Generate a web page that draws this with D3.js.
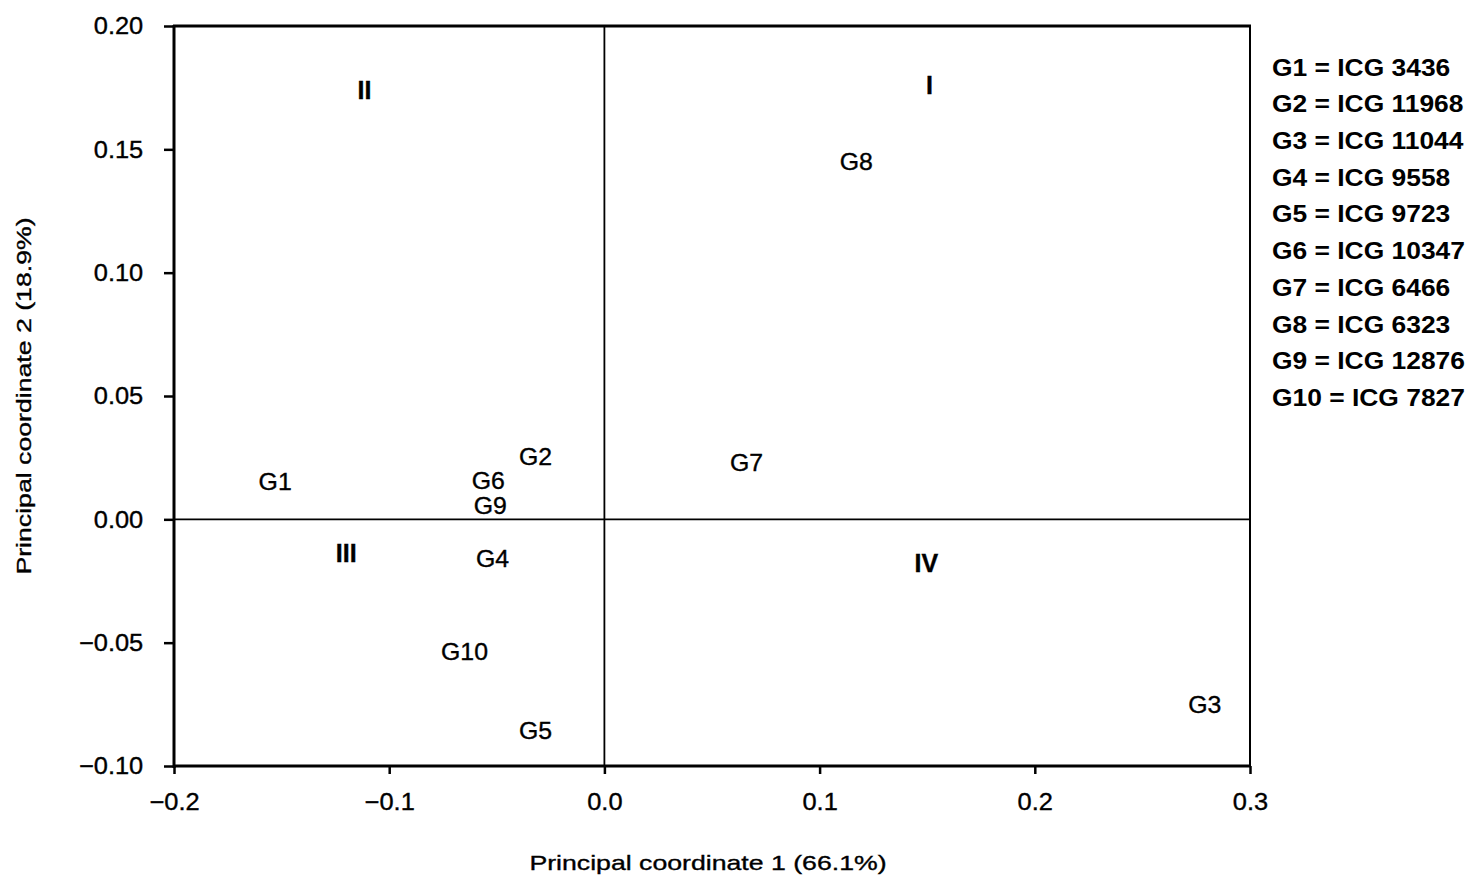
<html>
  <head>
    <meta charset="utf-8">
    <style>
      body { margin: 0; background: #fff; }
      text { font-family: "Liberation Sans", Arial, Helvetica, sans-serif; fill: #000; stroke: #000; stroke-width: 0.35px; }
      .tick text { font-size: 24px; }
      .tick line { stroke: #000; stroke-width: 2.5px; }
      .domain { display: none; }
    </style>
    <script src="https://cdnjs.cloudflare.com/ajax/libs/d3/7.8.5/d3.min.js"></script>
  </head>
  <body>
    <script>
      // genotype labels and their positions (label centres)
      var genotypes = ["G1", "G2", "G3", "G4", "G5", "G6", "G7", "G8", "G9", "G10"];
      var pc1 = [-0.153, -0.032, 0.279, -0.052, -0.032, -0.054, 0.066, 0.117, -0.053, -0.065];
      var pc2 = [0.0154, 0.0255, -0.075, -0.0158, -0.0855, 0.0158, 0.0231, 0.145, 0.0057, -0.0535];
      var accessions = ["ICG 3436", "ICG 11968", "ICG 11044", "ICG 9558", "ICG 9723",
                        "ICG 10347", "ICG 6466", "ICG 6323", "ICG 12876", "ICG 7827"];

      // quadrant labels
      var quadrants = ["I", "II", "III", "IV"];
      var quadX = [0.151, -0.1115, -0.12, 0.1496];
      var quadY = [0.176, 0.174, -0.0138, -0.0178];

      var xTicks = [-0.2, -0.1, 0.0, 0.1, 0.2, 0.3];
      var yTicks = [-0.10, -0.05, 0.00, 0.05, 0.10, 0.15, 0.20];

      var svg = d3.select("body").append("svg")
        .attr("width", 1474)
        .attr("height", 875);

      var mLeft = 174, mRight = 1250, mTop = 26, mBottom = 766;

      var x = d3.scaleLinear().domain([-0.2, 0.3]).range([mLeft, mRight]);
      var y = d3.scaleLinear().domain([-0.10, 0.20]).range([mBottom, mTop]);

      // axes
      var xAxis = svg.append("g")
        .attr("transform", "translate(0," + mBottom + ")")
        .call(d3.axisBottom(x).tickValues(xTicks).tickFormat(d3.format(".1f")).tickSize(8).tickPadding(19));
      xAxis.selectAll(".tick text").attr("transform", "scale(1.06,1)");

      var yAxis = svg.append("g")
        .attr("transform", "translate(" + mLeft + ",0)")
        .call(d3.axisLeft(y).tickValues(yTicks).tickFormat(d3.format(".2f")).tickSize(10).tickPadding(19));
      yAxis.selectAll(".tick text").attr("transform", "scale(1.06,1)");

      // frame
      svg.append("line").attr("x1", mLeft).attr("x2", mLeft).attr("y1", mTop - 1).attr("y2", mBottom + 2)
        .attr("stroke", "#000").attr("stroke-width", 3);
      svg.append("line").attr("x1", mLeft - 1).attr("x2", mRight + 1).attr("y1", mBottom).attr("y2", mBottom)
        .attr("stroke", "#000").attr("stroke-width", 3);
      svg.append("line").attr("x1", mLeft - 1).attr("x2", mRight + 1).attr("y1", mTop).attr("y2", mTop)
        .attr("stroke", "#000").attr("stroke-width", 3);
      svg.append("line").attr("x1", mRight).attr("x2", mRight).attr("y1", mTop).attr("y2", mBottom)
        .attr("stroke", "#000").attr("stroke-width", 2);

      // zero lines
      svg.append("line").attr("x1", x(0)).attr("x2", x(0)).attr("y1", mTop).attr("y2", mBottom)
        .attr("stroke", "#000").attr("stroke-width", 1.8);
      svg.append("line").attr("x1", mLeft).attr("x2", mRight).attr("y1", y(0)).attr("y2", y(0))
        .attr("stroke", "#000").attr("stroke-width", 1.8);

      // genotype labels
      svg.selectAll(".gen")
        .data(genotypes)
        .enter()
        .append("text")
        .attr("class", "gen")
        .attr("transform", function(d, i) {
          return "translate(" + x(pc1[i]) + "," + y(pc2[i]) + ") scale(1.08,1)";
        })
        .attr("text-anchor", "middle")
        .attr("dy", "0.36em")
        .style("font-size", "23px")
        .text(function(d) { return d; });

      // quadrant numerals
      svg.selectAll(".quad")
        .data(quadrants)
        .enter()
        .append("text")
        .attr("class", "quad")
        .attr("x", function(d, i) { return x(quadX[i]); })
        .attr("y", function(d, i) { return y(quadY[i]); })
        .attr("text-anchor", "middle")
        .attr("dy", "0.36em")
        .style("font-size", "25px")
        .style("font-weight", "bold")
        .text(function(d) { return d; });

      // legend
      svg.selectAll(".key")
        .data(genotypes)
        .enter()
        .append("text")
        .attr("class", "key")
        .attr("transform", function(d, i) {
          return "translate(1272," + (67 + i * 36.7) + ") scale(1.1,1)";
        })
        .attr("dy", "0.36em")
        .style("font-size", "24px")
        .style("font-weight", "bold")
        .style("stroke-width", "0px")
        .text(function(d, i) { return d + " = " + accessions[i]; });

      // axis titles
      svg.append("text")
        .attr("transform", "translate(708,870) scale(1.27,1)")
        .attr("text-anchor", "middle")
        .style("font-size", "21px")
        .text("Principal coordinate 1 (66.1%)");

      svg.append("text")
        .attr("transform", "translate(23,396) rotate(-90) scale(1.27,1)")
        .attr("text-anchor", "middle")
        .attr("dy", "0.36em")
        .style("font-size", "21px")
        .text("Principal coordinate 2 (18.9%)");
    </script>
  </body>
</html>
